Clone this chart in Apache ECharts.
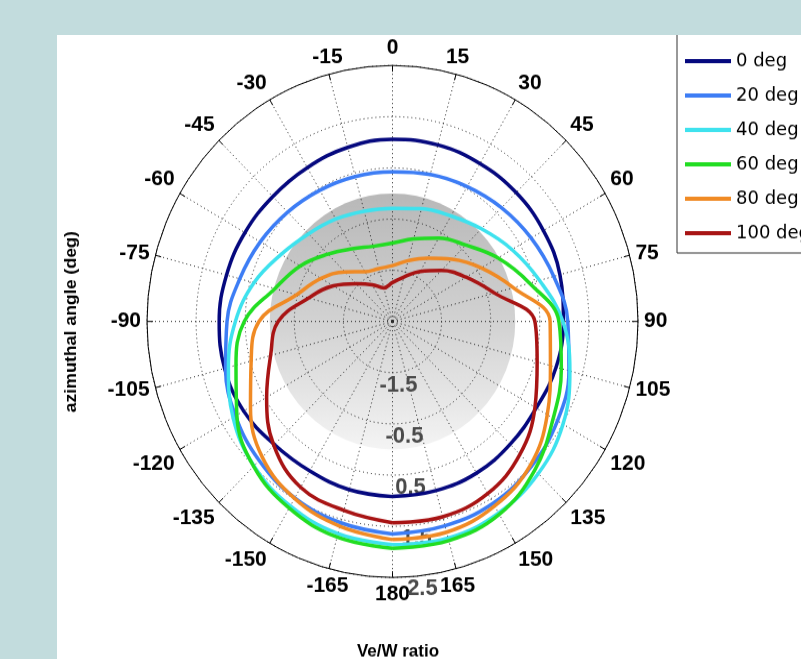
<!DOCTYPE html>
<html>
<head>
<meta charset="utf-8">
<script src="https://cdn.jsdelivr.net/npm/echarts@6/dist/echarts.min.js"></script>
<style>
  html, body { margin: 0; padding: 0; width: 801px; height: 659px; overflow: hidden; background: #c2dcdd; }
  /* the source figure is slightly taller than wide, so the panel is stretched a little */
  #chart { position: absolute; left: 57px; top: 35px; width: 744px; height: 600px; transform: scaleY(1.0428); transform-origin: 0 0; }
</style>
</head>
<body>
<div id="chart"></div>
<script>
// azimuthal angle (deg), same grid for every curve
const angles = [-180, -165, -150, -135, -120, -105, -90, -75, -60, -45, -30, -15, 0, 15, 30, 45, 60, 75, 90, 105, 120, 135, 150, 165, 180];

// Ve/W ratio, one list per elevation
const ratio0deg = [0.92, 0.90, 0.87, 0.90, 1.00, 1.04, 1.03, 1.00, 0.97, 0.95, 0.97, 1.02, 1.06, 1.07, 1.06, 1.06, 1.05, 1.03, 0.98, 0.95, 0.88, 0.89, 0.92, 0.92, 0.92];
const ratio20deg = [1.65, 1.57, 1.48, 1.34, 1.19, 1.02, 0.87, 0.72, 0.61, 0.52, 0.46, 0.43, 0.42, 0.47, 0.54, 0.64, 0.76, 0.90, 1.07, 1.22, 1.38, 1.50, 1.60, 1.63, 1.65];
const ratio40deg = [1.86, 1.79, 1.66, 1.49, 1.25, 0.96, 0.70, 0.42, 0.12, -0.08, -0.19, -0.27, -0.29, -0.22, -0.12, 0.06, 0.31, 0.60, 0.97, 1.24, 1.51, 1.70, 1.82, 1.88, 1.86];
const ratio60deg = [1.93, 1.86, 1.71, 1.50, 1.16, 0.80, 0.52, -0.02, -0.33, -0.64, -0.86, -0.98, -0.97, -0.83, -0.62, -0.39, -0.02, 0.39, 0.89, 1.06, 1.28, 1.60, 1.85, 1.93, 1.93];
const ratio80deg = [1.76, 1.64, 1.49, 1.25, 0.84, 0.48, 0.22, -0.48, -0.82, -1.13, -1.38, -1.43, -1.41, -1.27, -1.07, -0.78, -0.41, 0.05, 0.71, 0.83, 1.14, 1.47, 1.66, 1.76, 1.76];
const ratio100deg = [1.43, 1.32, 1.24, 0.92, 0.46, 0.07, -0.17, -0.73, -1.11, -1.46, -1.67, -1.82, -1.74, -1.60, -1.37, -1.09, -0.77, -0.35, 0.40, 0.55, 0.85, 1.17, 1.38, 1.45, 1.43];

// grey disc marks ratio = 0
const discRatio = [0];

const seriesNames = ['0 deg', '20 deg', '40 deg', '60 deg', '80 deg', '100 deg'];
const seriesColors = ['#05087e', '#3d7df5', '#3ee2ee', '#22dd22', '#f08a24', '#a81414'];
const seriesRatios = [ratio0deg, ratio20deg, ratio40deg, ratio60deg, ratio80deg, ratio100deg];

const FONT = '"Liberation Sans", Arial, sans-serif';
const CENTER = [335.5, 274.7];
const RADIUS = 245.5;

let chart = echarts.init(document.getElementById('chart'), null, { renderer: 'canvas' });

const lines = seriesNames.map((name, i) => ({
  name: name,
  type: 'line',
  coordinateSystem: 'polar',
  polarIndex: 0,
  data: angles.map((a, k) => [seriesRatios[i][k], a]),
  showSymbol: false,
  smooth: 0.4,
  lineStyle: { color: seriesColors[i], width: 3.5 },
  itemStyle: { color: seriesColors[i] },
  z: 3 + i
}));

chart.setOption({
  backgroundColor: '#ffffff',
  animation: false,
  polar: [
    { center: CENTER, radius: RADIUS },
    { center: CENTER, radius: RADIUS }
  ],
  angleAxis: [
    {
      polarIndex: 0,
      type: 'value',
      min: -180,
      max: 180,
      interval: 15,
      startAngle: -90,
      clockwise: true,
      axisLine: { show: true, lineStyle: { color: '#000', width: 1 } },
      axisTick: { show: true, inside: true, length: 6, lineStyle: { color: '#000' } },
      axisLabel: {
        margin: 6,
        color: '#000',
        fontFamily: FONT,
        fontSize: 21,
        fontWeight: 'bold',
        formatter: v => (Math.abs(v) === 180 ? '180' : String(v))
      },
      splitLine: { show: true, lineStyle: { color: '#222', width: 1, type: [1, 3] } }
    },
    {
      // only used to tilt the ratio labels a little off the bottom spoke
      polarIndex: 1,
      type: 'value',
      min: 0,
      max: 360,
      startAngle: -83,
      show: false
    }
  ],
  radiusAxis: [
    {
      polarIndex: 0,
      type: 'value',
      min: -2.5,
      max: 2.5,
      interval: 1,
      axisLine: { show: false },
      axisTick: { show: false },
      axisLabel: { show: false },
      splitLine: { show: true, lineStyle: { color: '#222', width: 1, type: [1, 3] } }
    },
    {
      polarIndex: 1,
      type: 'value',
      min: -2.5,
      max: 2.5,
      interval: 1,
      axisLine: { show: false },
      axisTick: { show: false },
      splitLine: { show: false },
      axisLabel: {
        margin: 0,
        align: 'center',
        verticalAlign: 'top',
        padding: [2, 0, 0, 0],
        color: '#4a4a4a',
        fontFamily: FONT,
        fontSize: 22,
        fontWeight: 'bold',
        formatter: v => (v === -2.5 ? '' : String(v))
      }
    }
  ],
  legend: {
    data: seriesNames,
    orient: 'vertical',
    left: 620,
    top: -20,
    padding: [35, 40, 9, 8],
    itemWidth: 46,
    itemHeight: 4,
    itemGap: 13,
    icon: 'rect',
    borderColor: '#333',
    borderWidth: 1,
    borderRadius: 0,
    backgroundColor: '#fff',
    textStyle: { fontFamily: '"DejaVu Sans", sans-serif', fontSize: 18, color: '#000', lineHeight: 20 }
  },
  graphic: [
    {
      type: 'text',
      x: 14,
      y: 275,
      rotation: Math.PI / 2,
      style: {
        text: 'azimuthal angle (deg)',
        font: 'bold 17px ' + FONT,
        fill: '#000',
        textAlign: 'center',
        textVerticalAlign: 'middle'
      }
    },
    {
      type: 'text',
      x: 341,
      y: 591,
      style: {
        text: 'Ve/W ratio',
        font: 'bold 17px ' + FONT,
        fill: '#000',
        textAlign: 'center',
        textVerticalAlign: 'middle'
      }
    }
  ],
  series: [
    {
      type: 'custom',
      coordinateSystem: 'polar',
      polarIndex: 0,
      silent: true,
      z: -1,
      data: discRatio.map(v => [v, 0]),
      renderItem: function (params, api) {
        const cs = params.coordSys;
        const edge = api.coord([api.value(0), 0]);
        const r = Math.hypot(edge[0] - cs.cx, edge[1] - cs.cy);
        return {
          type: 'circle',
          shape: { cx: cs.cx, cy: cs.cy, r: r },
          style: {
            fill: new echarts.graphic.LinearGradient(0, 0, 0, 1, [
              { offset: 0, color: '#b8b8b8' },
              { offset: 0.5, color: '#d2d2d2' },
              { offset: 1, color: '#f4f4f4' }
            ])
          }
        };
      }
    }
  ].concat(lines)
});
</script>
</body>
</html>
